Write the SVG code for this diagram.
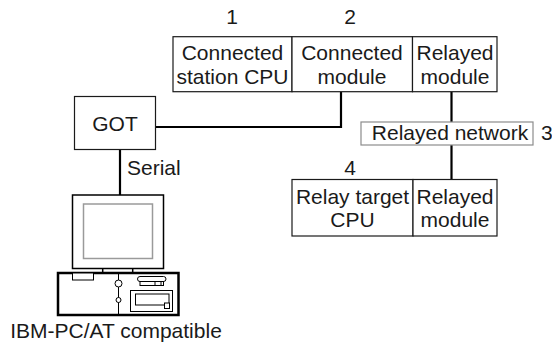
<svg xmlns="http://www.w3.org/2000/svg" width="552" height="345" viewBox="0 0 552 345">
  <style>
    text { font-family: "Liberation Sans", Arial, sans-serif; font-size: 21px; fill: #1a1a1a; }
    .mid { text-anchor: middle; }
    .box { fill: #ffffff; stroke: #1a1a1a; stroke-width: 1.2; }
    .netbox { fill: #ffffff; stroke: #8c8c8c; stroke-width: 1.2; }
    .wire { fill: none; stroke: #000000; stroke-width: 2.2; }
    .pc { fill: #ffffff; stroke: #000000; stroke-width: 1.5; }
    .pcbase { fill: #ffffff; stroke: #000000; stroke-width: 2.5; }
    .screen { fill: #ffffff; stroke: #9a9a9a; stroke-width: 1.5; }
    .thin { fill: #ffffff; stroke: #000000; stroke-width: 1; }
  </style>

  <!-- connectors -->
  <g id="connectors">
    <polyline class="wire" points="156,127 341,127 341,92"/>
    <line class="wire" x1="451.5" y1="92" x2="451.5" y2="122"/>
    <line class="wire" x1="451.5" y1="145" x2="451.5" y2="179"/>
    <line class="wire" x1="120" y1="150" x2="120" y2="195"/>
  </g>

  <!-- upper station -->
  <g id="connected-station-cpu">
    <rect class="box" x="173" y="36.7" width="119" height="55"/>
    <text class="mid" x="232.5" y="60">Connected</text>
    <text class="mid" x="232.5" y="83.5">station CPU</text>
    <text class="mid" x="232" y="24">1</text>
  </g>
  <g id="connected-module">
    <rect class="box" x="292" y="36.7" width="120.5" height="55"/>
    <text class="mid" x="352" y="60">Connected</text>
    <text class="mid" x="352" y="83.5">module</text>
    <text class="mid" x="350" y="24">2</text>
  </g>
  <g id="relayed-module-upper">
    <rect class="box" x="412.5" y="36.7" width="84.5" height="55"/>
    <text class="mid" x="455" y="60">Relayed</text>
    <text class="mid" x="455" y="83.5">module</text>
  </g>

  <!-- relayed network -->
  <g id="relayed-network">
    <rect class="netbox" x="361" y="122" width="172" height="23"/>
    <text class="mid" x="450" y="139.5">Relayed network</text>
    <text x="541" y="139.5">3</text>
  </g>

  <!-- lower station -->
  <g id="relay-target-cpu">
    <rect class="box" x="292" y="179.5" width="121" height="56.5"/>
    <text class="mid" x="352.5" y="203.5">Relay target</text>
    <text class="mid" x="352.5" y="227">CPU</text>
    <text class="mid" x="350" y="175">4</text>
  </g>
  <g id="relayed-module-lower">
    <rect class="box" x="413" y="179.5" width="84" height="56.5"/>
    <text class="mid" x="455" y="203.5">Relayed</text>
    <text class="mid" x="455" y="227">module</text>
  </g>

  <!-- GOT -->
  <g id="got">
    <rect class="box" x="74.5" y="96.5" width="81" height="53"/>
    <text class="mid" x="115" y="130.5">GOT</text>
    <text x="127" y="175">Serial</text>
  </g>

  <!-- personal computer -->
  <g id="pc">
    <rect class="pc" x="72.5" y="195" width="91" height="73.5"/>
    <rect class="screen" x="83.5" y="204" width="69" height="54.5"/>
    <line class="wire" x1="102.7" y1="268.5" x2="102.7" y2="273" style="stroke-width:1.5"/>
    <line class="wire" x1="132.7" y1="268.5" x2="132.7" y2="273" style="stroke-width:1.5"/>
    <rect class="pcbase" x="58" y="273" width="120.5" height="42"/>
    <rect class="thin" x="72.5" y="273" width="21" height="7"/>
    <line x1="118.5" y1="273" x2="118.5" y2="315" stroke="#000" stroke-width="1"/>
    <circle class="thin" cx="118.5" cy="283.5" r="3.5"/>
    <circle class="thin" cx="118.5" cy="300" r="2.5"/>
    <rect class="thin" x="137.5" y="276.5" width="28.5" height="5" rx="2.5"/>
    <rect class="thin" x="140" y="281.5" width="23.5" height="4"/>
    <rect class="thin" x="155" y="281.5" width="6" height="4"/>
    <rect class="thin" x="130.5" y="290.5" width="42" height="21"/>
    <rect class="thin" x="135.5" y="294" width="33.5" height="11"/>
    <rect class="thin" x="164.5" y="303" width="5" height="5.5"/>
    <text class="mid" x="116" y="337.5">IBM-PC/AT compatible</text>
  </g>
</svg>
